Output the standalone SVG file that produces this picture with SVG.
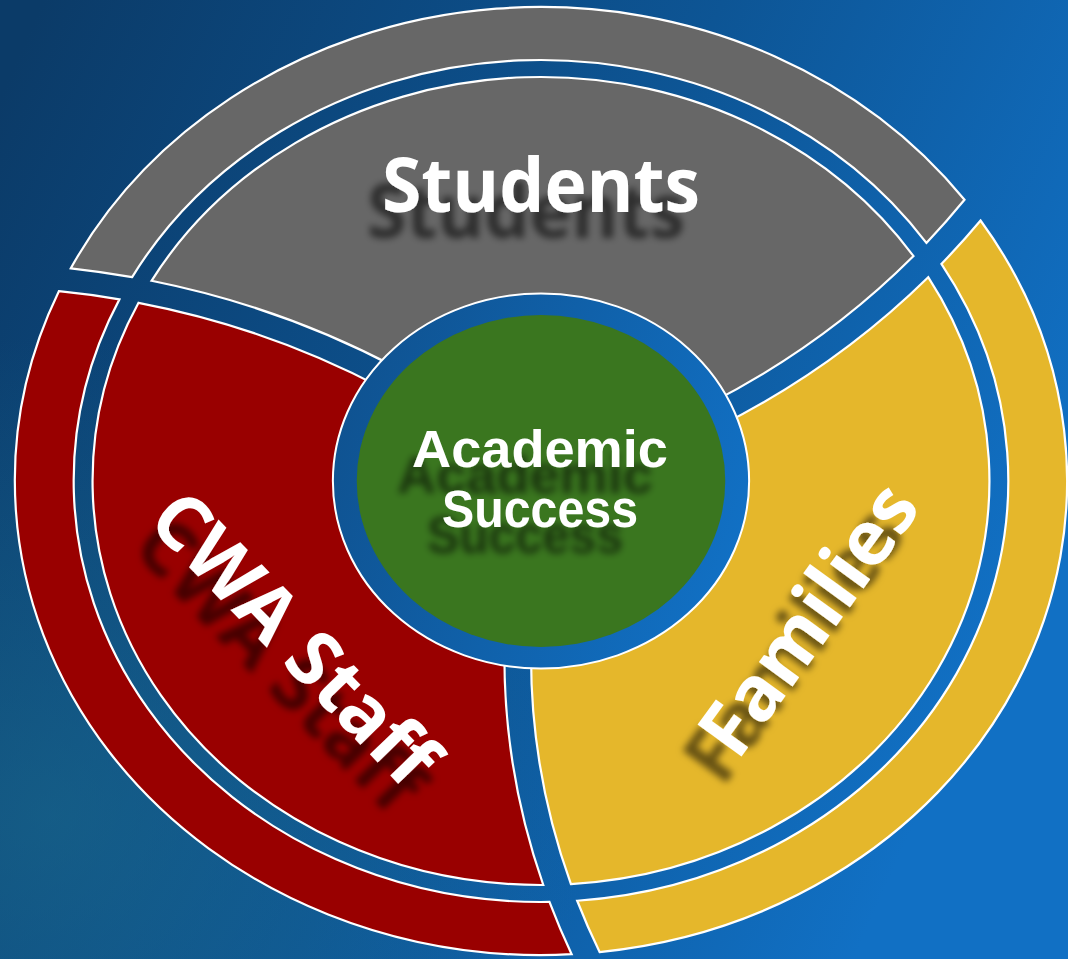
<svg xmlns="http://www.w3.org/2000/svg" width="1068" height="959" viewBox="0 0 1068 959">
<defs>
  <linearGradient id="bg" x1="0" y1="0.1" x2="1" y2="0.5">
    <stop offset="0" stop-color="#0b3b68"/>
    <stop offset="0.55" stop-color="#0d5595"/>
    <stop offset="1" stop-color="#1170c4"/>
  </linearGradient>
  <radialGradient id="bgteal" cx="0.05" cy="0.85" r="0.5">
    <stop offset="0" stop-color="#1d6f8c" stop-opacity="0.5"/>
    <stop offset="1" stop-color="#1d6f8c" stop-opacity="0"/>
  </radialGradient>
  <linearGradient id="ring" x1="0" y1="0.3" x2="1" y2="0.6">
    <stop offset="0" stop-color="#0f5290"/>
    <stop offset="1" stop-color="#1170c4"/>
  </linearGradient>
  <filter id="ds" x="-30%" y="-30%" width="160%" height="190%">
    <feGaussianBlur in="SourceAlpha" stdDeviation="3.5"/>
    <feOffset dx="-15" dy="26" result="o"/>
    <feFlood flood-color="#000000" flood-opacity="0.55"/>
    <feComposite in2="o" operator="in"/>
    <feMerge><feMergeNode/><feMergeNode in="SourceGraphic"/></feMerge>
  </filter>
  <style>
    .seg{stroke:#ffffff;stroke-width:2.2;vector-effect:non-scaling-stroke;stroke-linejoin:miter}
    .gray{fill:#676767}
    .red{fill:#990000}
    .yellow{fill:#e5b72b}
    .lbl{font-family:"Open Sans","Liberation Sans",sans-serif;font-weight:700;fill:#ffffff;text-anchor:middle}
    .ctr{font-family:"Liberation Sans","Open Sans",sans-serif;font-weight:700;fill:#ffffff;text-anchor:middle}
  </style>
</defs>
<rect x="0" y="0" width="1068" height="959" fill="url(#bg)"/>
<rect x="0" y="0" width="1068" height="959" fill="url(#bgteal)"/>

<g id="node-students">
  <g transform="translate(541,481) scale(1.11,1)">
    <path class="seg gray" d="M-368.35,-203.87 A760,760 0 0 0 -423.60,-212.71 A474,474 0 0 1 381.54,-281.26 A736,736 0 0 1 347.21,-238.10 A421,421 0 0 0 -368.35,-203.87 Z"/>
    <path class="seg gray" d="M0,0 L-127.98,-111.90 A760,760 0 0 0 -350.91,-200.21 A404,404 0 0 1 335.61,-224.91 A736,736 0 0 1 151.50,-77.13 Z"/>
  </g>
  <g filter="url(#ds)">
    <text class="lbl" x="541" y="212" font-size="75" textLength="318" lengthAdjust="spacingAndGlyphs">Students</text>
  </g>
</g>

<g id="node-staff">
  <g transform="translate(541,481) scale(1.11,1)">
    <path class="seg red" d="M7.62,420.93 A760,760 0 0 0 27.59,473.20 A474,474 0 0 1 -434.34,-189.80 A736,736 0 0 1 -379.81,-181.64 A421,421 0 0 0 7.62,420.93 Z"/>
    <path class="seg red" d="M0,0 L-32.92,166.78 A760,760 0 0 0 2.07,404.0 A404,404 0 0 1 -362.59,-178.19 A736,736 0 0 1 -142.54,-92.63 Z"/>
  </g>
  <g filter="url(#ds)">
    <text class="lbl" font-size="76" transform="translate(295,638) rotate(46)" x="0" y="27">CWA Staff</text>
  </g>
</g>

<g id="node-families">
  <g transform="translate(541,481) scale(1.11,1)">
    <path class="seg yellow" d="M360.73,-217.07 A760,760 0 0 0 396.00,-260.49 A474,474 0 0 1 52.80,471.05 A736,736 0 0 1 32.60,419.74 A421,421 0 0 0 360.73,-217.07 Z"/>
    <path class="seg yellow" d="M0,0 L160.90,-54.88 A760,760 0 0 0 348.84,-203.79 A404,404 0 0 1 26.97,403.10 A736,736 0 0 1 -8.95,169.76 Z"/>
  </g>
  <g filter="url(#ds)">
    <text class="lbl" font-size="76" transform="translate(808,619) rotate(-54)" x="0" y="27">Families</text>
  </g>
</g>

<g id="node-center">
  <g transform="translate(541,481) scale(1.11,1)">
    <circle cx="0" cy="0" r="187.5" fill="url(#ring)" stroke="#ffffff" stroke-width="2" vector-effect="non-scaling-stroke"/>
    <circle cx="0" cy="0" r="166" fill="#3a761f"/>
  </g>
  <g filter="url(#ds)">
    <text class="ctr" font-size="51"><tspan x="540" y="467" textLength="256" lengthAdjust="spacingAndGlyphs">Academic</tspan><tspan x="540" y="527" textLength="196" lengthAdjust="spacingAndGlyphs">Success</tspan></text>
  </g>
</g>
</svg>
